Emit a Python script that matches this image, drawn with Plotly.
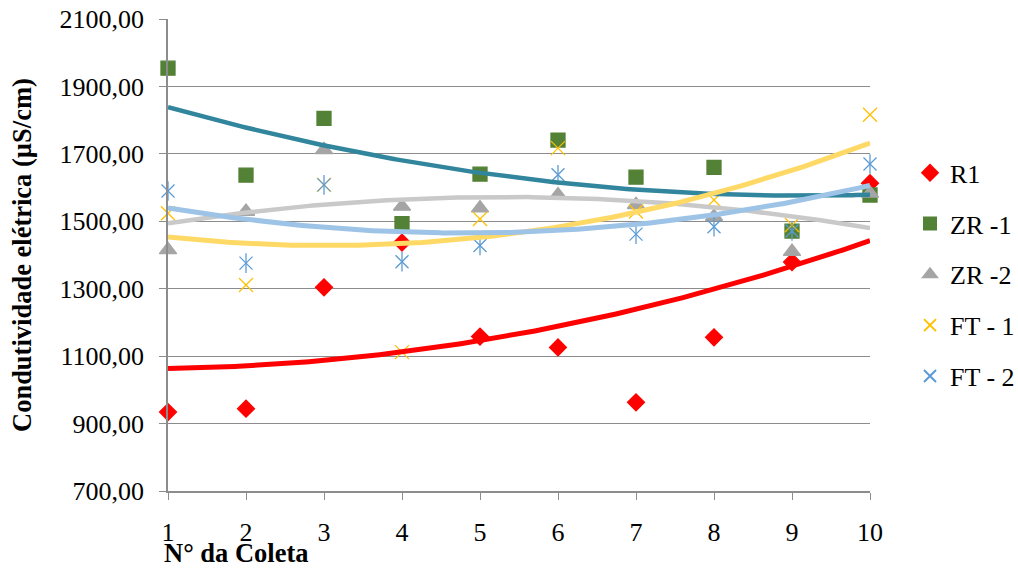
import numpy as np
import plotly.graph_objects as go

# Coleta number (x) and electrical conductivity per series (µS/cm)
coleta = [1, 2, 3, 4, 5, 6, 7, 8, 9, 10]
r1 = [934, 944, 1304, 1437, 1158, 1126, 963, 1156, 1379, 1613]
zr1 = [1954, 1637, 1805, 1493, 1640, 1741, 1631, 1660, 1471, 1578]
zr2 = [1415, 1529, 1712, 1544, 1539, 1578, 1549, 1514, 1410, 1583]
ft1 = [1524, 1311, 1608, 1112, 1507, 1717, 1529, 1563, 1489, 1816]
ft2 = [1590, 1376, 1608, 1380, 1428, 1638, 1462, 1484, 1471, 1670]

# y-axis ticks and their labels (decimal comma)
y_ticks = [700, 900, 1100, 1300, 1500, 1700, 1900, 2100]
y_tick_labels = ["700,00", "900,00", "1100,00", "1300,00",
                 "1500,00", "1700,00", "1900,00", "2100,00"]

FONT = "Liberation Serif"
GRID = "#8C8C8C"


def tfont(size=26):
    return dict(family=FONT, size=size, color="black")


series = [
    # name, values, marker colour, symbol, marker size, trendline colour, trendline width
    ("R1", r1, "#FF0000", "diamond", 13, "#FF0000", 5),
    ("ZR -1", zr1, "#538135", "square", 14, "#31859C", 4.5),
    ("ZR -2", zr2, "#A5A5A5", "triangle-up", 15, "#C9C9C9", 4.5),
    ("FT - 1", ft1, "#FFC000", "x-thin-open", 14, "#FFD966", 5),
    ("FT - 2", ft2, "#5B9BD5", "x-thin-open", 13, "#9DC3E6", 5),
]

fig = go.Figure()
xs = np.linspace(coleta[0], coleta[-1], 200)

for name, vals, mcol, sym, msize, tcol, tw in series:
    fig.add_trace(go.Scatter(
        x=coleta, y=vals, mode="markers", name=name, legendgroup=name,
        marker=dict(symbol=sym, size=msize, color=mcol,
                    line=dict(color=mcol, width=1.3)),
        cliponaxis=False,
    ))
    if name == "FT - 2":
        # vertical stroke that turns the x into an asterisk
        fig.add_trace(go.Scatter(
            x=coleta, y=vals, mode="markers", name=name, legendgroup=name,
            showlegend=False,
            marker=dict(symbol="line-ns-open", size=14, color=mcol,
                        line=dict(color=mcol, width=1.3)),
            cliponaxis=False,
        ))

# second-order polynomial trendlines
for name, vals, mcol, sym, msize, tcol, tw in series:
    coef = np.polyfit(coleta, vals, 2)
    fig.add_trace(go.Scatter(
        x=xs, y=np.polyval(coef, xs), mode="lines", showlegend=False,
        legendgroup=name, hoverinfo="skip",
        line=dict(color=tcol, width=tw),
    ))

fig.update_layout(
    width=1018, height=568,
    margin=dict(l=168, r=148, t=19, b=77, autoexpand=False),
    paper_bgcolor="white", plot_bgcolor="white",
    showlegend=True,
    legend=dict(x=1.057, xanchor="left", y=0.458, yanchor="middle",
                font=tfont(),
                traceorder="grouped", tracegroupgap=14,
                itemsizing="constant", bgcolor="rgba(0,0,0,0)"),
    xaxis=dict(
        range=[1, 10], tickmode="linear", tick0=1, dtick=1,
        showgrid=False, zeroline=False,
        showline=True, linecolor=GRID, linewidth=1.5,
        ticks="outside", ticklen=7, tickcolor=GRID, tickwidth=1.3,
        ticklabelstandoff=10,
        tickfont=tfont(),
    ),
    yaxis=dict(
        range=[700, 2100], tickmode="array",
        tickvals=y_ticks, ticktext=y_tick_labels,
        showgrid=True, gridcolor=GRID, gridwidth=1.3, zeroline=False,
        showline=True, linecolor=GRID, linewidth=1.5,
        ticks="outside", ticklen=7, tickcolor=GRID, tickwidth=1.3,
        ticklabelstandoff=10,
        tickfont=tfont(),
    ),
)

# y-axis title, rotated, at the far left
fig.add_annotation(
    text="<b>Condutividade elétrica (µS/cm)</b>", xref="paper", yref="paper",
    x=0, y=0.5, xanchor="center", yanchor="middle", textangle=-90,
    xshift=-146, showarrow=False,
    font=tfont(26.5),
)

# x-axis title, left-aligned under the first tick
fig.add_annotation(
    text="<b>N° da Coleta</b>", xref="paper", yref="paper",
    x=0, y=0, xanchor="left", yanchor="middle",
    xshift=-6, yshift=-62, showarrow=False,
    font=tfont(26.5),
)

fig.write_html("out.html")
